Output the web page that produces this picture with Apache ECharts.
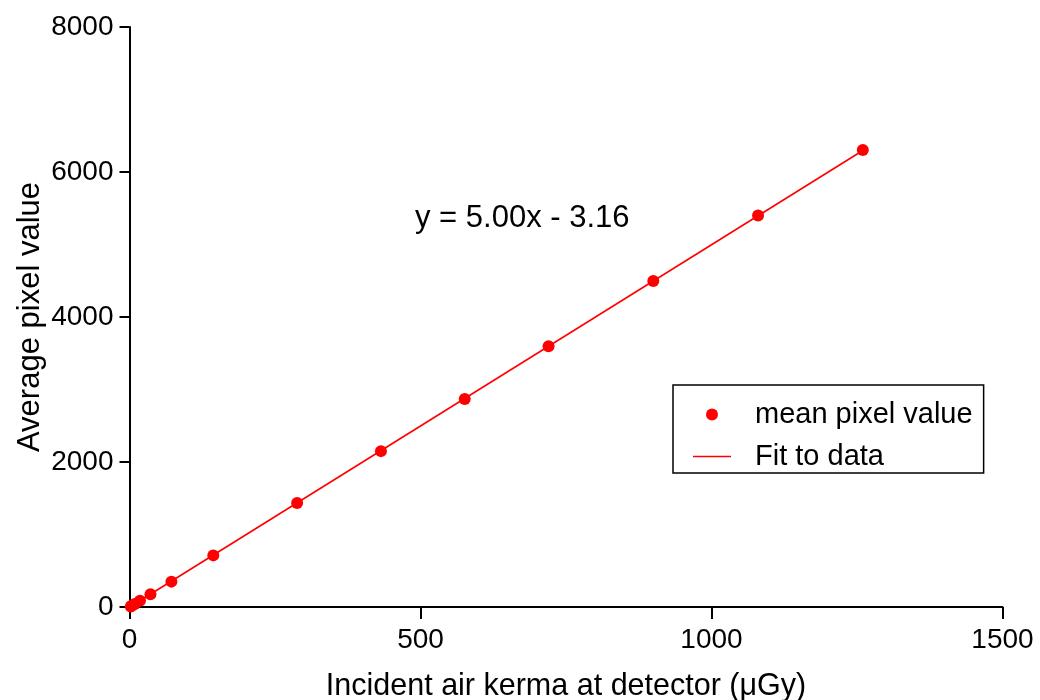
<!DOCTYPE html>
<html>
<head>
<meta charset="utf-8">
<script src="https://cdn.jsdelivr.net/npm/echarts@6/dist/echarts.min.js"></script>
<style>
html,body{margin:0;padding:0;background:#fff;}
#chart{width:1040px;height:700px;}
</style>
</head>
<body>
<div id="chart"></div>
<script>
// Data
const kerma = [2.25, 4.5, 9, 18, 36, 72, 144, 288, 432, 576, 720, 900, 1080, 1260];
const pixelValue = [8, 20, 42, 87, 175, 350, 712, 1435, 2150, 2870, 3595, 4497, 5400, 6305];
const fitX = [0, 1260];
const fitY = [-3.16, 6296.84];
const xTicks = [0, 500, 1000, 1500];
const yTicks = [0, 2000, 4000, 6000, 8000];
const seriesNames = ['mean pixel value', 'Fit to data'];
const equationText = 'y = 5.00x - 3.16';

const FONT = '"Liberation Sans", Arial, sans-serif';
const chart = echarts.init(document.getElementById('chart'));

const scatterData = kerma.map((x, i) => [x, pixelValue[i]]);
const fitData = fitX.map((x, i) => [x, fitY[i]]);

chart.setOption({
  animation: false,
  backgroundColor: '#ffffff',
  textStyle: { fontFamily: FONT, color: '#000' },
  grid: { left: 129.5, right: 37.5, top: 27, bottom: 93, containLabel: false, outerBoundsMode: 'none' },
  xAxis: {
    type: 'value',
    min: xTicks[0], max: xTicks[xTicks.length - 1], interval: 500,
    name: 'Incident air kerma at detector (μGy)',
    nameLocation: 'middle', nameGap: 64,
    nameTextStyle: { fontSize: 30.5, color: '#000', fontFamily: FONT },
    axisLine: { show: true, onZero: false, lineStyle: { color: '#000', width: 2 } },
    axisTick: { show: true, length: 12, lineStyle: { color: '#000', width: 2 } },
    axisLabel: { fontSize: 28, color: '#000', margin: 19, fontFamily: FONT, formatter: v => String(v) },
    splitLine: { show: false }
  },
  yAxis: {
    type: 'value',
    min: yTicks[0], max: yTicks[yTicks.length - 1], interval: 2000,
    name: 'Average pixel value',
    nameLocation: 'middle', nameGap: 84, nameMoveOverlap: false,
    nameTextStyle: { fontSize: 31, color: '#000', fontFamily: FONT },
    axisLine: { show: true, onZero: false, lineStyle: { color: '#000', width: 2 } },
    axisTick: { show: true, length: 10, lineStyle: { color: '#000', width: 2 } },
    axisLabel: { fontSize: 28, color: '#000', margin: 16, fontFamily: FONT, formatter: v => String(v) },
    splitLine: { show: false }
  },
  legend: {
    orient: 'vertical',
    left: 673, top: 385,
    padding: [15, 11, 2, 20],
    itemGap: 13,
    itemWidth: 38, itemHeight: 12,
    borderColor: '#000', borderWidth: 1.5,
    textStyle: { fontSize: 29, color: '#000', fontFamily: FONT, padding: [0, 0, 0, 19] },
    data: [
      { name: seriesNames[0], icon: 'circle' },
      { name: seriesNames[1], icon: 'path://M0,0L38,0L38,1.6L0,1.6Z' }
    ]
  },
  graphic: [{
    type: 'text',
    left: 415, top: 203,
    style: { text: equationText, font: '31px ' + FONT, fill: '#000' }
  }],
  series: [
    {
      name: seriesNames[1],
      type: 'line',
      data: fitData,
      symbol: 'none',
      showSymbol: false,
      lineStyle: { color: '#ff0000', width: 1.6 },
      itemStyle: { color: '#ff0000' },
      z: 2
    },
    {
      name: seriesNames[0],
      type: 'scatter',
      data: scatterData,
      symbol: 'circle',
      symbolSize: 12,
      itemStyle: { color: '#ff0000', opacity: 1 },
      z: 3
    }
  ]
});
</script>
</body>
</html>
